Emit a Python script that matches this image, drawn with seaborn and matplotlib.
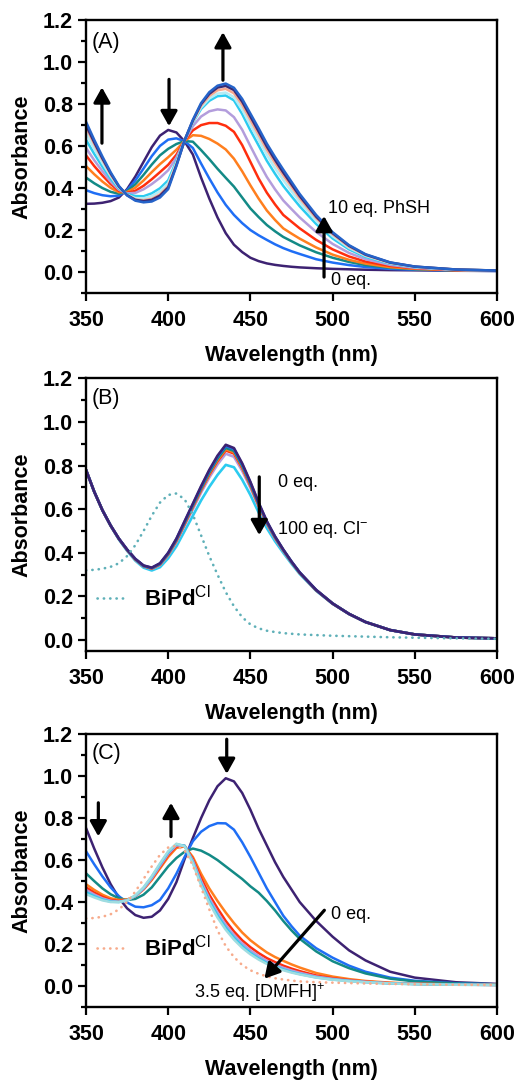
import matplotlib
matplotlib.use("Agg")
import matplotlib.pyplot as plt
from matplotlib.ticker import MultipleLocator, FormatStrFormatter
import seaborn as sns
import pandas as pd

# ---------------- data ----------------
wl = [350, 355, 360, 365, 370, 375, 380, 385, 390, 395, 400, 405, 410, 415, 420, 425,
      430, 435, 440, 445, 450, 455, 460, 465, 470, 475, 480, 490, 500, 510, 520, 535,
      550, 575, 600]

# Panel A: PhSH titration, 0 .. 10 eq
a_eq = ["0", "1", "2", "3", "4", "5", "6", "7", "8", "9", "10"]
a_0 = [.325, .326, .330, .338, .355, .395, .455, .525, .595, .650, .677, .665, .622, .560, .450, .350, .260, .185, .130, .095, .068, .052, .041, .034, .029, .025, .022, .018, .015, .013, .011, .009, .008, .006, .005]
a_1 = [.390, .376, .366, .361, .364, .390, .436, .493, .552, .601, .631, .637, .623, .591, .517, .446, .379, .320, .272, .233, .200, .175, .153, .132, .114, .099, .086, .061, .045, .033, .024, .015, .011, .007, .005]
a_2 = [.450, .423, .400, .382, .373, .385, .418, .463, .512, .556, .587, .610, .624, .621, .581, .538, .492, .449, .407, .355, .303, .262, .224, .194, .167, .147, .127, .094, .068, .048, .033, .020, .013, .008, .006]
a_3 = [.505, .466, .431, .401, .380, .381, .402, .436, .476, .514, .547, .583, .625, .652, .649, .634, .612, .584, .540, .480, .413, .350, .293, .248, .208, .183, .159, .117, .083, .058, .040, .023, .015, .008, .006]
a_4 = [.556, .505, .460, .419, .387, .377, .387, .411, .442, .476, .511, .559, .626, .675, .700, .710, .710, .697, .668, .605, .525, .446, .378, .322, .272, .240, .208, .153, .108, .074, .050, .029, .018, .009, .006]
a_5 = [.591, .533, .480, .431, .392, .375, .377, .394, .419, .449, .485, .545, .627, .695, .741, .766, .775, .770, .738, .678, .600, .524, .453, .394, .341, .300, .260, .191, .134, .091, .061, .034, .020, .010, .006]
a_6 = [.630, .563, .502, .445, .398, .372, .362, .361, .375, .399, .437, .529, .628, .712, .777, .816, .838, .841, .818, .753, .675, .603, .530, .468, .410, .361, .313, .229, .160, .108, .072, .040, .023, .011, .007]
a_7 = [.661, .587, .519, .456, .402, .368, .352, .351, .362, .385, .423, .521, .628, .715, .784, .827, .850, .855, .833, .774, .700, .630, .558, .495, .438, .385, .334, .244, .171, .115, .077, .042, .024, .011, .007]
a_8 = [.689, .609, .535, .465, .406, .367, .346, .342, .349, .370, .409, .513, .628, .719, .793, .839, .866, .873, .852, .796, .724, .653, .582, .519, .460, .406, .351, .257, .180, .121, .081, .044, .025, .012, .007]
a_9 = [.700, .618, .541, .470, .408, .366, .344, .338, .344, .364, .403, .509, .628, .722, .800, .849, .879, .887, .867, .812, .741, .670, .598, .534, .474, .418, .362, .264, .185, .125, .083, .045, .026, .012, .007]
a_10 = [.716, .630, .550, .475, .410, .365, .340, .332, .336, .355, .395, .505, .628, .725, .805, .857, .888, .898, .878, .825, .755, .685, .612, .548, .488, .430, .372, .272, .190, .128, .085, .046, .026, .012, .007]
a_colors = ["#3d2272", "#1f6ef5", "#138a86", "#ff7f1e", "#ff2e0e", "#b39ddc",
            "#2bcbf0", "#b5ecf5", "#f7a88e", "#3a2a73", "#2563c9"]

# Panel B: Cl- titration, 0 .. 100 eq
b_eq = ["0", "10", "20", "40", "60", "80", "100"]
b_0 = [.780, .680, .595, .525, .465, .415, .372, .342, .332, .352, .400, .465, .545, .625, .705, .780, .845, .895, .880, .810, .725, .630, .545, .475, .415, .360, .310, .230, .168, .120, .083, .046, .026, .012, .008]
b_1 = [.780, .680, .595, .525, .465, .415, .372, .341, .331, .351, .399, .463, .543, .622, .702, .776, .841, .890, .876, .806, .722, .628, .543, .474, .414, .360, .310, .230, .168, .120, .083, .046, .026, .012, .008]
b_2 = [.780, .680, .595, .525, .464, .414, .371, .340, .330, .349, .396, .460, .538, .617, .695, .768, .832, .881, .867, .799, .716, .623, .540, .472, .413, .358, .309, .229, .168, .120, .083, .046, .026, .012, .008]
b_3 = [.780, .680, .595, .525, .464, .414, .370, .340, .329, .348, .394, .457, .535, .613, .691, .763, .826, .875, .861, .794, .712, .620, .538, .470, .412, .358, .308, .229, .168, .120, .083, .046, .026, .012, .008]
b_4 = [.780, .680, .595, .524, .464, .413, .370, .339, .328, .347, .393, .455, .532, .610, .687, .758, .820, .869, .855, .789, .708, .617, .536, .469, .411, .357, .308, .229, .167, .120, .083, .046, .026, .012, .008]
b_5 = [.780, .680, .595, .524, .463, .412, .368, .338, .326, .344, .389, .449, .525, .600, .676, .745, .805, .854, .840, .776, .698, .610, .531, .465, .408, .356, .307, .228, .167, .120, .083, .046, .026, .012, .008]
b_6 = [.780, .680, .595, .523, .461, .409, .364, .332, .319, .334, .375, .430, .500, .570, .640, .702, .757, .803, .792, .735, .665, .585, .513, .453, .400, .350, .303, .226, .166, .120, .083, .046, .026, .012, .008]
b_colors = ["#3d2272", "#1f6ef5", "#138a86", "#ff7f1e", "#ff2e0e", "#b39ddc", "#2bcbf0"]
b_ref = [.320, .322, .327, .336, .352, .385, .435, .500, .570, .630, .665, .672, .645, .575, .480, .385, .300, .220, .155, .105, .072, .054, .043, .037, .032, .029, .026, .023, .020, .018, .016, .013, .011, .008, .006]

# Panel C: [DMFH]+ titration, 0 .. 3.5 eq
c_eq = ["0", "0.5", "1.0", "1.5", "2.0", "2.5", "3.0", "3.5"]
c_0 = [.753, .655, .565, .485, .420, .370, .338, .325, .330, .360, .415, .495, .605, .705, .800, .885, .952, .990, .975, .920, .840, .750, .670, .590, .520, .460, .400, .310, .235, .170, .122, .068, .040, .018, .010]
c_1 = [.642, .580, .522, .470, .428, .398, .378, .375, .385, .410, .465, .535, .615, .690, .735, .762, .776, .775, .745, .685, .615, .540, .465, .400, .335, .285, .240, .180, .135, .097, .068, .040, .025, .013, .008]
c_2 = [.537, .500, .465, .437, .418, .410, .415, .435, .470, .520, .570, .610, .640, .655, .645, .625, .600, .570, .540, .510, .475, .445, .405, .360, .310, .265, .225, .165, .118, .085, .060, .035, .022, .012, .008]
c_3 = [.485, .458, .435, .418, .410, .412, .428, .460, .505, .560, .615, .658, .665, .615, .535, .465, .405, .350, .300, .255, .218, .188, .160, .138, .120, .103, .088, .062, .045, .033, .024, .016, .011, .008, .006]
c_4 = [.470, .445, .425, .410, .405, .410, .428, .462, .510, .567, .625, .665, .668, .605, .515, .435, .370, .310, .260, .218, .185, .157, .133, .114, .097, .083, .071, .050, .037, .028, .021, .014, .010, .007, .005]
c_5 = [.458, .436, .418, .406, .402, .409, .428, .463, .513, .572, .630, .670, .668, .598, .500, .418, .350, .292, .243, .203, .170, .143, .120, .102, .087, .074, .063, .045, .034, .026, .020, .013, .010, .007, .005]
c_6 = [.447, .428, .412, .402, .400, .408, .430, .468, .520, .580, .638, .676, .668, .590, .488, .405, .336, .278, .230, .190, .158, .132, .110, .093, .079, .067, .057, .041, .031, .024, .018, .012, .009, .006, .005]
c_7 = [.438, .422, .408, .400, .400, .408, .432, .470, .523, .584, .642, .678, .665, .585, .480, .395, .326, .268, .221, .182, .151, .126, .105, .089, .075, .064, .055, .040, .030, .023, .018, .012, .009, .006, .005]
c_colors = ["#3d2272", "#1f6ef5", "#138a86", "#ff7f1e", "#ff2e0e", "#b39ddc", "#2bcbf0", "#9fdce0"]
c_ref = [.322, .324, .330, .342, .365, .400, .450, .510, .570, .625, .660, .668, .645, .575, .470, .365, .265, .190, .138, .100, .075, .058, .046, .037, .031, .026, .022, .018, .016, .014, .012, .010, .008, .006, .005]

x_ticks = [350, 400, 450, 500, 550, 600]
y_ticks = [0.0, 0.2, 0.4, 0.6, 0.8, 1.0, 1.2]

# ---------------- style ----------------
sns.set_theme(style="ticks")
plt.rcParams["font.family"] = ["Liberation Sans", "DejaVu Sans"]
plt.rcParams["mathtext.fontset"] = "custom"
plt.rcParams["mathtext.rm"] = "Liberation Sans"
plt.rcParams["mathtext.bf"] = "Liberation Sans:bold"
plt.rcParams["mathtext.it"] = "Liberation Sans:italic"
for key in ["text.color", "axes.labelcolor", "xtick.color", "ytick.color",
            "axes.edgecolor", "xtick.labelcolor", "ytick.labelcolor"]:
    plt.rcParams[key] = "black"

fig = plt.figure(figsize=(5.15, 10.8), dpi=100)
L, W, H = 0.1670, 0.798, 0.2526
ax_a = fig.add_axes([L, 0.7287, W, H])
ax_b = fig.add_axes([L, 0.3972, W, H])
ax_c = fig.add_axes([L, 0.0676, W, H])


def long_df(labels, series):
    rows = []
    for lab, ys in zip(labels, series):
        for x, y in zip(wl, ys):
            rows.append((x, y, lab))
    return pd.DataFrame(rows, columns=["wl", "absorb", "eq"])


def style_axes(ax, ymin):
    ax.set_xlim(350, 600)
    ax.set_ylim(ymin, 1.2)
    ax.set_xticks(x_ticks)
    ax.set_yticks(y_ticks)
    ax.yaxis.set_major_formatter(FormatStrFormatter("%.1f"))
    ax.yaxis.set_minor_locator(MultipleLocator(0.1))
    ax.tick_params(axis="both", which="major", direction="out", length=6,
                   width=1.6, labelsize=15.5, colors="black")
    ax.tick_params(axis="x", which="major", pad=6)
    ax.tick_params(axis="y", which="major", pad=3.5)
    ax.tick_params(axis="y", which="minor", direction="out", length=3.5,
                   width=1.6, colors="black")
    for lab in ax.get_xticklabels() + ax.get_yticklabels():
        lab.set_fontweight("bold")
    for sp in ax.spines.values():
        sp.set_visible(True)
        sp.set_linewidth(1.7)
        sp.set_color("black")
    ax.set_xlabel("Wavelength (nm)", fontsize=15.5, fontweight="bold",
                  labelpad=10, color="black")
    ax.set_ylabel("Absorbance", fontsize=15.5, fontweight="bold",
                  labelpad=7, color="black")


def arrow(ax, tail, head):
    ax.annotate("", xy=head, xytext=tail,
                arrowprops=dict(arrowstyle="-|>,head_length=0.5,head_width=0.28",
                                lw=2.3, color="black", mutation_scale=18,
                                shrinkA=0, shrinkB=0))


def ref_legend(ax, y):
    leg = ax.legend(loc="center left", bbox_to_anchor=(0.027, y), frameon=False,
                    fontsize=16, handlelength=1.35, handletextpad=0.75,
                    borderaxespad=0, borderpad=0)
    for t in leg.get_texts():
        t.set_color("black")


dots = (0, (0.1, 2.3))

# ---- Panel A ----
df_a = long_df(a_eq, [a_0, a_1, a_2, a_3, a_4, a_5, a_6, a_7, a_8, a_9, a_10])
sns.lineplot(data=df_a, x="wl", y="absorb", hue="eq", hue_order=a_eq,
             palette=dict(zip(a_eq, a_colors)), estimator=None, sort=False,
             legend=False, lw=1.8, ax=ax_a)
style_axes(ax_a, -0.1)
ax_a.text(0.014, 0.92, "(A)", transform=ax_a.transAxes, fontsize=15.5,
          va="center", ha="left", color="black")
arrow(ax_a, (359.7, 0.614), (359.7, 0.88))
arrow(ax_a, (400.5, 0.918), (400.5, 0.695))
arrow(ax_a, (433.3, 0.914), (433.3, 1.143))
arrow(ax_a, (494.8, -0.024), (494.8, 0.267))
ax_a.text(497.0, 0.305, "10 eq. PhSH", fontsize=13, va="center", ha="left", color="black")
ax_a.text(499.0, -0.04, "0 eq.", fontsize=13, va="center", ha="left", color="black")

# ---- Panel B ----
df_b = long_df(b_eq, [b_0, b_1, b_2, b_3, b_4, b_5, b_6])
sns.lineplot(data=df_b, x="wl", y="absorb", hue="eq", hue_order=b_eq[::-1],
             palette=dict(zip(b_eq, b_colors)), estimator=None, sort=False,
             legend=False, lw=1.9, ax=ax_b)
sns.lineplot(x=wl, y=b_ref, color="#5fb0b8", lw=1.9, linestyle=dots,
             dash_capstyle="round", estimator=None, sort=False, ax=ax_b,
             label=r"$\mathbf{BiPd}^{\mathrm{Cl}}$")
style_axes(ax_b, -0.05)
ref_legend(ax_b, 0.193)
ax_b.text(0.014, 0.924, "(B)", transform=ax_b.transAxes, fontsize=15.5,
          va="center", ha="left", color="black")
arrow(ax_b, (455.4, 0.748), (455.4, 0.481))
ax_b.text(466.9, 0.72, "0 eq.", fontsize=13, va="center", ha="left", color="black")
ax_b.text(466.4, 0.507, r"100 eq. Cl$^{-}$", fontsize=13, va="center", ha="left", color="black")

# ---- Panel C ----
df_c = long_df(c_eq, [c_0, c_1, c_2, c_3, c_4, c_5, c_6, c_7])
sns.lineplot(data=df_c, x="wl", y="absorb", hue="eq", hue_order=c_eq,
             palette=dict(zip(c_eq, c_colors)), estimator=None, sort=False,
             legend=False, lw=1.8, ax=ax_c)
sns.lineplot(x=wl, y=c_ref, color="#f7ab8c", lw=1.9, linestyle=dots,
             dash_capstyle="round", estimator=None, sort=False, ax=ax_c,
             label=r"$\mathbf{BiPd}^{\mathrm{Cl}}$")
style_axes(ax_c, -0.1)
ref_legend(ax_c, 0.215)
ax_c.text(0.014, 0.931, "(C)", transform=ax_c.transAxes, fontsize=15.5,
          va="center", ha="left", color="black")
arrow(ax_c, (357.5, 0.873), (357.5, 0.713))
arrow(ax_c, (401.7, 0.712), (401.7, 0.873))
arrow(ax_c, (435.6, 1.176), (435.6, 1.011))
arrow(ax_c, (495.0, 0.361), (458.5, 0.035))
ax_c.text(498.9, 0.341, "0 eq.", fontsize=13, va="center", ha="left", color="black")
ax_c.text(415.8, -0.031, r"3.5 eq. [DMFH]$^{+}$", fontsize=13, va="center", ha="left", color="black")

fig.savefig("out.png", dpi=100)
